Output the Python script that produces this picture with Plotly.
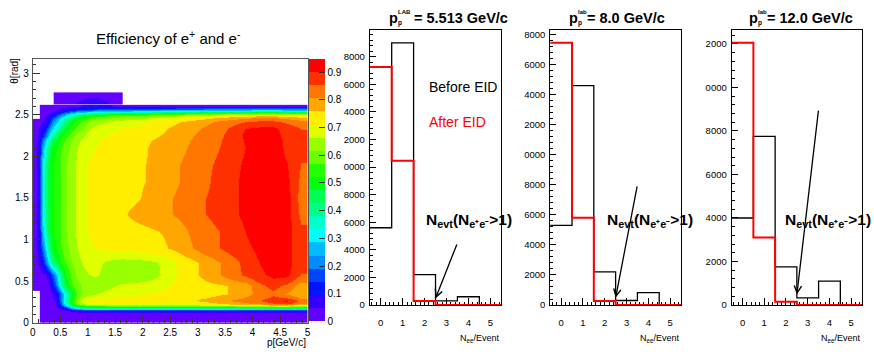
import colorsys
import plotly.graph_objects as go

FIG_W, FIG_H = 874, 352
FONT = "Liberation Sans, Arial, Helvetica, sans-serif"

# ---------------------------------------------------------------------------
# Efficiency of e+ and e- versus momentum p [GeV/c] and polar angle theta [rad]
# Bin edges; values are efficiencies in percent, None = bin without entries.
# ---------------------------------------------------------------------------
P_EDGES = [0, 0.13, 0.2, 0.27, 0.35, 0.45, 0.55, 0.65, 0.75, 0.85, 1.0,
           1.25, 1.5, 1.75, 2.0, 2.25, 2.5, 2.75, 3.0, 3.25, 3.5, 3.75,
           4.0, 4.25, 4.5, 4.75, 5.0]
THETA_EDGES = [0, 0.1, 0.14, 0.17, 0.2, 0.24, 0.3, 0.39, 0.5, 0.65, 0.8,
               1.0, 1.2, 1.4, 1.6, 1.8, 2.0, 2.2, 2.3, 2.38, 2.46, 2.51,
               2.55, 2.59, 2.62]
_ = None
EFF_PCT = [
    [_, 1, 1, 1, 1, 1, 1, 1, 1, 1,   1, 1, 1, 1, 1, 1, 1, 1, 1, 1, 1, 1, 1, 1, 1, 1],
    [_, 1, 1, 1, 1, 1, 2, 2, 2, 3,   3, 3, 3, 3, 3, 3, 3, 3, 3, 3, 3, 3, 3, 3, 3, 3],
    [_, 1, 1, 1, 1, 2, 5, 9, 12, 15,   17, 17, 17, 17, 17, 17, 17, 17, 17, 17, 17, 17, 17, 17, 17, 17],
    [_, 1, 1, 1, 2, 8, 16, 28, 36, 42,   45, 46, 46, 46, 46, 46, 46, 46, 46, 47, 47, 48, 49, 50, 50, 48],
    [_, 1, 1, 2, 4, 14, 32, 48, 58, 65,   67, 68, 68, 68, 68, 68, 69, 69, 71, 73, 75, 77, 79, 82, 84, 78],
    [_, 1, 2, 3, 5, 18, 38, 52, 62, 70,   73, 74, 74, 74, 74, 74, 75, 75, 77, 79, 81, 83, 85, 89, 91, 84],
    [_, 1, 2, 3, 6, 18, 34, 47, 57, 63,   66, 68, 69, 70, 71, 72, 73, 74, 74, 75, 76, 79, 82, 84, 80, 76],
    [2, 2, 3, 5, 16, 34, 48, 56, 60, 62,   62, 65, 67, 68, 69, 70, 72, 73, 74, 75, 76, 78, 84, 87, 84, 78],
    [2, 3, 4, 10, 22, 40, 52, 58, 62, 65,   67, 64, 63, 63, 64, 67, 71, 74, 77, 80, 83, 86, 89, 91, 91, 85],
    [3, 10, 20, 34, 45, 52, 57, 61, 64, 67,   68, 65, 64, 64, 65, 67, 71, 74, 77, 80, 83, 87, 90, 92, 92, 86],
    [4, 18, 30, 44, 51, 56, 60, 64, 66, 69,   71, 72, 72, 73, 74, 75, 77, 80, 83, 85, 87, 89, 91, 93, 92, 86],
    [4, 24, 38, 48, 53, 57, 61, 64, 67, 70,   72, 73, 73, 74, 75, 76, 78, 81, 83, 85, 87, 90, 92, 93, 92, 86],
    [4, 27, 41, 49, 53, 57, 61, 64, 67, 70,   72, 74, 75, 77, 78, 79, 81, 83, 85, 87, 89, 91, 93, 93, 92, 84],
    [4, 28, 42, 50, 53, 57, 61, 64, 67, 70,   72, 73, 74, 75, 77, 79, 81, 83, 85, 87, 89, 91, 93, 93, 92, 83],
    [4, 28, 42, 50, 53, 57, 61, 64, 67, 70,   72, 73, 74, 75, 76, 78, 80, 82, 84, 87, 89, 91, 93, 93, 91, 84],
    [4, 27, 41, 49, 53, 57, 61, 64, 67, 70,   72, 73, 74, 75, 76, 78, 80, 82, 84, 86, 88, 91, 92, 92, 90, 85],
    [4, 22, 35, 46, 51, 56, 60, 63, 66, 69,   71, 72, 73, 74, 76, 77, 79, 81, 83, 85, 87, 90, 92, 92, 89, 86],
    [3, 12, 20, 32, 42, 50, 55, 59, 63, 66,   70, 71, 72, 73, 75, 76, 78, 80, 82, 84, 87, 91, 91, 91, 89, 86],
    [3, 8, 13, 22, 32, 41, 48, 54, 58, 62,   68, 70, 71, 72, 74, 75, 77, 79, 81, 83, 86, 90, 91, 91, 88, 85],
    [2, 4, 7, 14, 24, 34, 42, 49, 54, 58,   64, 66, 68, 69, 71, 73, 75, 77, 79, 81, 83, 85, 86, 86, 84, 82],
    [_, 2, 4, 8, 15, 23, 31, 38, 43, 48,   54, 57, 59, 60, 62, 64, 66, 68, 70, 72, 74, 75, 76, 76, 75, 73],
    [_, 1, 2, 4, 8, 13, 18, 23, 27, 30,   35, 38, 40, 41, 42, 44, 45, 47, 48, 50, 51, 52, 53, 53, 52, 51],
    [_, 1, 1, 2, 3, 5, 7, 9, 11, 12,   14, 15, 16, 16, 17, 17, 18, 18, 19, 19, 20, 20, 21, 21, 20, 20],
    [_, 1, 1, 1, 1, 1, 2, 3, 4, 5,   6, 5, 4, 3, 3, 3, 3, 3, 3, 3, 3, 3, 3, 3, 3, 3],
]
# small extension of the acceptance above theta = 2.62 rad
CAP_P_EDGES = [0.38, 0.6, 0.85, 1.05, 1.25, 1.45, 1.63]
CAP_THETA_EDGES = [2.62, 2.68, 2.77]
CAP_EFF_PCT = [
    [2, 4, 7, 8, 5, 2],
    [1, 1, 3, 4, 2, 1],
]
EFF_MAX = 0.946
N_LEVELS = 20
CBAR_TICKS = [0, 0.1, 0.2, 0.3, 0.4, 0.5, 0.6, 0.7, 0.8, 0.9]
CBAR_LABELS = ["0", "0.1", "0.2", "0.3", "0.4", "0.5", "0.6", "0.7", "0.8", "0.9"]

# ---------------------------------------------------------------------------
# Number of e+e- per event, before and after electron identification
# ---------------------------------------------------------------------------
N_EE = [0, 1, 2, 3, 4, 5]
BEFORE_5513 = [5600, 19000, 2200, 300, 600, 0]
AFTER_5513 = [17250, 10450, 300, 0, 0, 0]
BEFORE_8 = [5300, 14600, 2200, 300, 820, 0]
AFTER_8 = [17450, 5800, 270, 0, 0, 0]
BEFORE_12 = [4000, 7750, 1750, 330, 1100, 0]
AFTER_12 = [12050, 3100, 150, 0, 0, 0]

# y tick labels as they appear in the narrow pads (leading digit cut by the pad edge)
Y_TICKS_5513 = [0, 2000, 4000, 6000, 8000, 10000, 12000, 14000, 16000, 18000]
Y_LABELS_5513 = ["0", "2000", "4000", "6000", "8000", "0000", "2000", "4000", "6000", "8000"]
Y_TICKS_8 = [0, 2000, 4000, 6000, 8000, 10000, 12000, 14000, 16000, 18000]
Y_LABELS_8 = ["0", "2000", "4000", "6000", "8000", "0000", "2000", "4000", "6000", "8000"]
Y_TICKS_12 = [0, 2000, 4000, 6000, 8000, 10000, 12000]
Y_LABELS_12 = ["0", "2000", "4000", "6000", "8000", "0000", "2000"]


def fx(px):
    return px / FIG_W


def fy(py):
    return 1 - py / FIG_H


# ROOT-like "pretty" palette: hue wheel violet -> red, 20 contour bands
band_colors = []
for k in range(N_LEVELS):
    idx = int(0.01 + (k + 0.99) * 50 / N_LEVELS)
    hue = 280 - (idx + 1) * 280 / 50
    r, g, b = colorsys.hls_to_rgb(hue / 360.0, 0.5, 1.0)
    band_colors.append(f"rgb({round(r * 255)},{round(g * 255)},{round(b * 255)})")
colorscale = []
for k, c in enumerate(band_colors):
    colorscale.append([k / N_LEVELS, c])
    colorscale.append([(k + 1) / N_LEVELS, c])

fig = go.Figure()

z_main = [[None if v is None else v / 100 for v in row] for row in EFF_PCT]
z_cap = [[v / 100 for v in row] for row in CAP_EFF_PCT]

fig.add_trace(go.Heatmap(
    x=P_EDGES, y=THETA_EDGES, z=z_main, zsmooth="best",
    colorscale=colorscale, zmin=0, zmax=EFF_MAX, hoverinfo="skip",
    xaxis="x", yaxis="y",
    colorbar=dict(
        x=fx(308.3), xanchor="left", y=fy(326), yanchor="bottom",
        len=(326 - 59.3) / FIG_H, lenmode="fraction",
        thickness=16, thicknessmode="pixels", xpad=0, ypad=0,
        outlinewidth=0, tickmode="array", tickvals=CBAR_TICKS, ticktext=CBAR_LABELS,
        ticks="inside", ticklen=6, tickwidth=1, tickcolor="#333",
        tickfont=dict(size=10, family=FONT, color="black"),
    ),
))
fig.add_trace(go.Heatmap(
    x=CAP_P_EDGES, y=CAP_THETA_EDGES, z=z_cap, zsmooth="best",
    colorscale=colorscale, zmin=0, zmax=EFF_MAX, showscale=False,
    hoverinfo="skip", xaxis="x", yaxis="y",
))


def step_xy(counts):
    edges = [n - 0.5 for n in N_EE] + [N_EE[-1] + 0.5]
    return edges, list(counts) + [counts[-1]]


panels = [
    (BEFORE_5513, AFTER_5513, Y_TICKS_5513, Y_LABELS_5513, 369.3, 501.7),
    (BEFORE_8, AFTER_8, Y_TICKS_8, Y_LABELS_8, 551.0, 682.7),
    (BEFORE_12, AFTER_12, Y_TICKS_12, Y_LABELS_12, 733.7, 865.0),
]

axis_common = dict(showgrid=False, zeroline=False, showline=True, mirror=True)
layout_axes = {}

layout_axes["xaxis"] = dict(
    domain=[fx(30), fx(306.7)], anchor="y", range=[0, 5],
    tickmode="linear", tick0=0, dtick=0.5,
    ticks="inside", ticklen=7, tickwidth=1, tickcolor="#333",
    minor=dict(ticks="inside", ticklen=3.5, tickmode="linear", tick0=0, dtick=0.1, tickcolor="#333"),
    linecolor="#555", linewidth=1, tickfont=dict(size=10), ticklabelstandoff=0,
    **axis_common,
)
layout_axes["yaxis"] = dict(
    domain=[fy(327.3), fy(59.3)], anchor="x", range=[0, 3.168],
    tickmode="linear", tick0=0, dtick=0.5,
    ticks="inside", ticklen=7, tickwidth=1, tickcolor="#333",
    minor=dict(ticks="inside", ticklen=3.5, tickmode="linear", tick0=0, dtick=0.1, tickcolor="#333"),
    linecolor="#555", linewidth=1, tickfont=dict(size=10), ticklabelstandoff=1,
    **axis_common,
)

for i, (before, after, yt, yl, x0, x1) in enumerate(panels):
    n = i + 2
    ymax = 1.05 * max(max(before), max(after))
    xs, ys = step_xy(before)
    fig.add_trace(go.Scatter(x=xs, y=ys, mode="lines", line=dict(color="black", width=1.3, shape="hv"),
                             hoverinfo="skip", xaxis=f"x{n}", yaxis=f"y{n}"))
    xs, ys = step_xy(after)
    fig.add_trace(go.Scatter(x=xs, y=ys, mode="lines", line=dict(color="#ff0000", width=2, shape="hv"),
                             hoverinfo="skip", xaxis=f"x{n}", yaxis=f"y{n}"))
    minor_y = [v for v in range(0, int(ymax) + 1, 400) if v % 2000]
    minor_x = [round(-0.4 + 0.2 * k, 1) for k in range(30) if round(-0.4 + 0.2 * k, 1) % 1]
    layout_axes[f"xaxis{n}"] = dict(
        domain=[fx(x0), fx(x1)], anchor=f"y{n}", range=[-0.5, 5.5],
        tickmode="array", tickvals=N_EE, ticktext=[str(v) for v in N_EE],
        ticks="inside", ticklen=7, tickwidth=1, tickcolor="black",
        minor=dict(ticks="inside", ticklen=3.5, tickmode="array", tickvals=minor_x, tickcolor="black"),
        linecolor="black", linewidth=1, tickfont=dict(size=9.5), ticklabelstandoff=9,
        layer="below traces", **axis_common,
    )
    layout_axes[f"yaxis{n}"] = dict(
        domain=[fy(309.3), fy(29.2)], anchor=f"x{n}", range=[0, ymax],
        tickmode="array", tickvals=yt, ticktext=yl,
        ticks="inside", ticklen=6, tickwidth=1, tickcolor="black",
        minor=dict(ticks="inside", ticklen=3, tickmode="array", tickvals=minor_y, tickcolor="black"),
        linecolor="black", linewidth=1, tickfont=dict(size=9.5), ticklabelstandoff=2,
        layer="below traces", **axis_common,
    )

ann = []


def text(t, xp, yp, size, xanchor="left", color="black", angle=0):
    ann.append(dict(text=t, x=fx(xp), y=fy(yp), xref="paper", yref="paper",
                    xanchor=xanchor, yanchor="middle", showarrow=False, borderpad=0,
                    textangle=angle, font=dict(size=size, color=color, family=FONT)))


# efficiency map labels
text("Efficiency of e<sup>+</sup> and e<sup>-</sup>", 167, 37, 15, xanchor="center")
text("θ[rad]", 12, 71, 10, xanchor="center", angle=-90)
text("p[GeV/c]", 306, 347, 10, xanchor="right")

# panel titles: p with stacked super/subscript
titles = [(388.0, "LAB", 25.0, "= 5.513 GeV/c"),
          (569.0, "lab", 18.0, "= 8.0 GeV/c"),
          (750.5, "lab", 18.0, "= 12.0 GeV/c")]
for xp, sup, gap, rest in titles:
    text("<b>p</b>", xp, 17, 14.5)
    text(f"<b>{sup}</b>", xp + 9, 11, 6)
    text("<b>p</b>", xp + 9, 22.5, 6.5)
    text(f"<b>{rest}</b>", xp + gap, 17, 14.5)

text("Before EID", 428, 87.5, 14)
text("After EID", 428, 123, 14, color="#ff0000")

for (before, after, yt, yl, x0, x1), xl in zip(panels, [425, 607, 786]):
    text("<b>N<sub>evt</sub>(N<sub>e⁺e⁻</sub>>1)</b>", xl, 223.5, 15.5)
    text("N<sub>ee</sub>/Event", x1, 343, 9, xanchor="right")

# arrows pointing at the N_ee = 2 / 3 bin boundary
ARROW_TAILS = [4500, 8000, 9000]
for i, tail in enumerate(ARROW_TAILS):
    n = i + 2
    ann.append(dict(text="", x=2.5, y=480, ax=3.5, ay=tail,
                    xref=f"x{n}", yref=f"y{n}", axref=f"x{n}", ayref=f"y{n}",
                    showarrow=True, arrowhead=5, arrowsize=1.1, arrowwidth=1.3,
                    arrowcolor="black", standoff=0))

fig.update_layout(
    width=FIG_W, height=FIG_H, margin=dict(l=0, r=0, t=0, b=0),
    paper_bgcolor="white", plot_bgcolor="white", showlegend=False,
    font=dict(family=FONT, color="black"), hovermode=False,
    annotations=ann, **layout_axes,
)

fig.write_html("out.html")
